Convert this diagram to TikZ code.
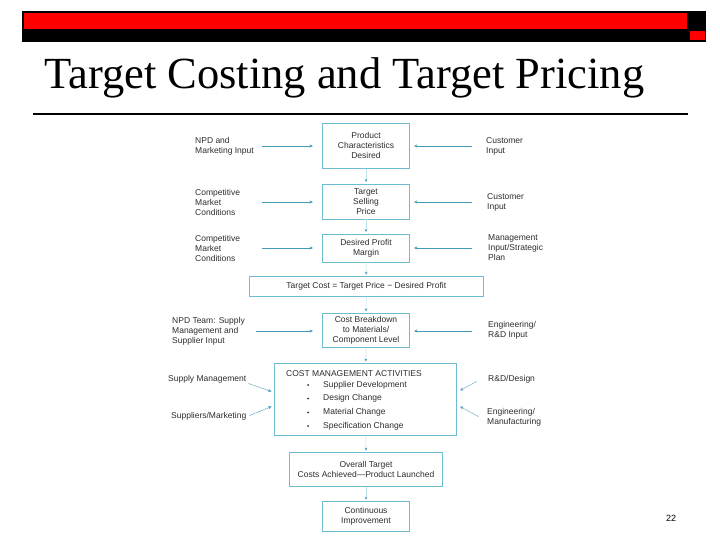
\documentclass[tikz,border=0pt]{standalone}
\usepackage{fontspec}
\setmainfont{Liberation Serif}
\setsansfont{Liberation Sans}
\usetikzlibrary{arrows.meta}
\definecolor{boxc}{RGB}{110,188,208}
\definecolor{arrc}{RGB}{70,155,185}
\definecolor{txtc}{RGB}{45,45,45}
\definecolor{hred}{RGB}{255,0,0}
\tikzset{
  stagebox/.style={draw=boxc, line width=0.9pt, fill=white, minimum width=#1, inner sep=1pt, align=center, font=\sffamily\fontsize{8.5}{10}\selectfont, text=txtc},
  lbl/.style={align=left, inner sep=0pt, font=\sffamily\fontsize{8.5}{10}\selectfont, text=txtc},
  inarrow/.style={draw=arrc, line width=0.7pt, -{Stealth[length=3.5pt,width=3pt]}},
  downarrow/.style={draw=boxc!45, line width=0.5pt, -{Stealth[length=3pt,width=2.6pt, color=arrc]}, shorten >=1.5pt},
}
\begin{document}
\begin{tikzpicture}[x=1pt,y=-1pt]
\useasboundingbox (0,0) rectangle (720,540);
\fill[white] (0,0) rectangle (720,540);
% header
\fill[black] (22,11) rectangle (706,42);
\fill[hred] (24,13) rectangle (687,29);
\fill[hred] (690,31) rectangle (705,40);
\node[anchor=base west, inner sep=0pt, font=\fontsize{44.5}{48}\selectfont] (title) at (44,89) {Target Costing and Target Pricing};
\draw[line width=1.6pt] (33,114) -- (688,114);
% boxes
\node[stagebox=87pt, minimum height=45pt] (pcd) at (366,145.8) {Product\\Characteristics\\Desired};
\node[stagebox=87pt, minimum height=35pt] (tsp) at (366,201.5) {Target\\Selling\\Price};
\node[stagebox=87pt, minimum height=28pt] (dpm) at (366,248) {Desired Profit\\Margin};
\node[stagebox=234pt, minimum height=20pt] (tc) at (366.3,286.7) {Target Cost = Target Price − Desired Profit};
\node[stagebox=87pt, minimum height=34pt] (cb) at (366,330.3) {Cost Breakdown\\to Materials/\\Component Level};
\node[stagebox=182pt, minimum height=72pt] (cma) at (365.8,399.5) {};
\node[stagebox=153pt, minimum height=34pt] (ot) at (366,469.7) {Overall Target\\Costs Achieved\textemdash Product Launched};
\node[stagebox=87pt, minimum height=30pt] (ci) at (366,516.7) {Continuous\\Improvement};
% contents of cost management box
\node[lbl, anchor=west] (cmat) at (286,373.5) {COST MANAGEMENT ACTIVITIES};
\node[lbl, anchor=west] (b1) at (323,385) {Supplier Development};
\node[lbl, anchor=west] (b2) at (323,398.5) {Design Change};
\node[lbl, anchor=west] (b3) at (323,412.5) {Material Change};
\node[lbl, anchor=west] (b4) at (323,426) {Specification Change};
\foreach \y/\n in {385/d1,398.5/d2,412.5/d3,426/d4}
  \fill[txtc] (308,\y) circle (1pt) coordinate (\n);
% vertical arrows
\draw[downarrow] (pcd.south) -- (tsp.north);
\draw[downarrow] (tsp.south) -- (dpm.north);
\draw[downarrow] (dpm.south) -- (tc.north);
\draw[downarrow] (tc.south) -- (cb.north);
\draw[downarrow] (cb.south) -- (cma.north);
\draw[downarrow] (cma.south) -- (ot.north);
\draw[downarrow] (ot.south) -- (ci.north);
% left labels
\node[lbl, anchor=west] (l1) at (195,146) {NPD and\\Marketing Input};
\node[lbl, anchor=west] (l2) at (195,202) {Competitive\\Market\\Conditions};
\node[lbl, anchor=west] (l3) at (195,248) {Competitive\\Market\\Conditions};
\node[lbl, anchor=west] (l4) at (172,331) {NPD Team: Supply\\Management and\\Supplier Input};
\node[lbl, anchor=west] (l5) at (168,379) {Supply Management};
\node[lbl, anchor=west] (l6) at (171,416.7) {Suppliers/Marketing};
% right labels
\node[lbl, anchor=west] (r1) at (486,146) {Customer\\Input};
\node[lbl, anchor=west] (r2) at (487,202) {Customer\\Input};
\node[lbl, anchor=west] (r3) at (488,248) {Management\\Input/Strategic\\Plan};
\node[lbl, anchor=west] (r4) at (488,330.5) {Engineering/\\R\&D Input};
\node[lbl, anchor=west] (r5) at (488,379) {R\&D/Design};
\node[lbl, anchor=west] (r6) at (487,417) {Engineering/\\Manufacturing};
% arrow start coordinates
\coordinate (a1) at (262,146);
\coordinate (a2) at (262,202);
\coordinate (a3) at (262,248);
\coordinate (a4) at (256,331);
\coordinate (c1) at (471.7,146);
\coordinate (c2) at (471.7,202);
\coordinate (c3) at (471.7,248);
\coordinate (c4) at (471.7,331);
\draw[inarrow, shorten >=9pt] (a1) -- (a1 -| pcd.west);
\draw[inarrow, shorten >=9pt] (a2) -- (a2 -| tsp.west);
\draw[inarrow, shorten >=9pt] (a3) -- (a3 -| dpm.west);
\draw[inarrow, shorten >=9pt] (a4) -- (a4 -| cb.west);
\draw[inarrow, shorten >=4pt] (c1) -- (c1 -| pcd.east);
\draw[inarrow, shorten >=4pt] (c2) -- (c2 -| tsp.east);
\draw[inarrow, shorten >=4pt] (c3) -- (c3 -| dpm.east);
\draw[inarrow, shorten >=4pt] (c4) -- (c4 -| cb.east);
% diagonal arrows
\coordinate (s1) at (248.5,383.5);
\coordinate (e1) at (271.5,391.5);
\coordinate (s2) at (249.5,415.5);
\coordinate (e2) at (271.5,406.5);
\coordinate (s3) at (476.5,381.5);
\coordinate (e3) at (460,390.5);
\coordinate (s4) at (478.5,416.5);
\coordinate (e4) at (460,406.5);
\draw[inarrow, line width=0.5pt, dash pattern=on 1.5pt off 0.6pt] (s1) -- (e1);
\draw[inarrow, line width=0.5pt, dash pattern=on 1.5pt off 0.6pt] (s2) -- (e2);
\draw[inarrow, line width=0.5pt, dash pattern=on 1.5pt off 0.6pt] (s3) -- (e3);
\draw[inarrow, line width=0.5pt, dash pattern=on 1.5pt off 0.6pt] (s4) -- (e4);
% page number
\node[anchor=base west, inner sep=0pt, font=\sffamily\fontsize{9}{10}\selectfont] (pg) at (666,521) {22};
\end{tikzpicture}
\end{document}
